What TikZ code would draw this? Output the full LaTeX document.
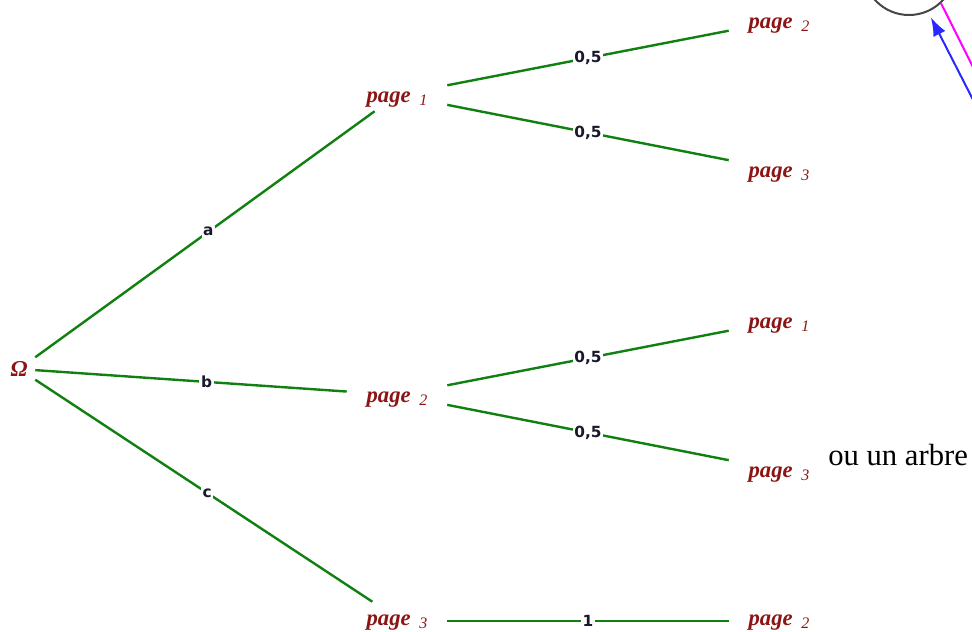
\documentclass[tikz,border=0pt]{standalone}
\usepackage{fontspec}
\setmainfont{Liberation Serif}
\newfontfamily\labfont{DejaVu Sans}
\usetikzlibrary{arrows.meta}
\definecolor{treegreen}{RGB}{16,128,16}
\definecolor{pgred}{RGB}{140,20,20}
\definecolor{labcol}{RGB}{25,25,45}
\definecolor{circgray}{RGB}{70,70,70}
\definecolor{mag}{RGB}{255,0,255}
\definecolor{arrblue}{RGB}{40,40,255}
\newcommand{\pgt}[1]{{\fontsize{17}{20}\selectfont\bfseries\itshape page}\hspace{6.5pt}\raisebox{-2.5pt}{\fontsize{12}{14}\selectfont\itshape #1}}
\begin{document}
\begin{tikzpicture}[x=0.75pt,y=-0.75pt,
  pg/.style={inner sep=0pt,minimum width=75pt,minimum height=24pt,text=pgred,text height=10.5pt,text depth=0pt},
  br/.style={draw=treegreen,line width=1.8pt},
  lab/.style={fill=white,inner sep=1.2pt,font=\labfont\bfseries\fontsize{11.5}{13}\selectfont,text=labcol}]
\useasboundingbox (0,0) rectangle (972,632);
\begin{scope}
\clip (0,0) rectangle (972,632);
% nodes
\node[inner sep=0pt,minimum width=24pt,minimum height=22pt,text=pgred,text height=11pt,text depth=0pt,font=\fontsize{17}{19}\selectfont\bfseries\itshape] (O) at (19,369) {Ω};
\node[pg] (L1) at (397,95) {\pgt{1}};
\node[pg] (L2) at (397,395) {\pgt{2}};
\node[pg] (L3) at (397,618) {\pgt{3}};
\node[pg] (R1) at (779,21) {\pgt{2}};
\node[pg] (R2) at (779,170) {\pgt{3}};
\node[pg] (R3) at (779,321) {\pgt{1}};
\node[pg] (R4) at (779,470) {\pgt{3}};
\node[pg] (R5) at (779,618) {\pgt{2}};
% branches
\draw[br] (O) -- node[lab,pos=0.51]{a} (L1);
\draw[br] (O) -- node[lab,pos=0.55]{b} (L2);
\draw[br] (O) -- node[lab,pos=0.51]{c} (L3);
\draw[br] (L1) -- node[lab]{0,5} (R1);
\draw[br] (L1) -- node[lab]{0,5} (R2);
\draw[br] (L2) -- node[lab]{0,5} (R3);
\draw[br] (L2) -- node[lab]{0,5} (R4);
\draw[br] ([yshift=-2.25pt]L3.east) -- node[lab]{1} ([yshift=-2.25pt]R5.west);
% text
\node[anchor=base west,inner sep=0pt,font=\fontsize{23}{27}\selectfont] (T) at (828,465) {ou un arbre};
% partial circle and arrows
\node[draw=circgray,line width=1.5pt,circle,minimum size=69pt,inner sep=0pt] (C) at (909,-31) {};
\coordinate (bs) at (990,133);
\coordinate (ms) at (995,111);
\draw[mag,line width=1.5pt] (C.-47) -- (ms);
\draw[arrblue,line width=1.5pt,-{Latex[length=14pt,width=10pt]},shorten >=4.5pt] (bs) -- (C.-66);
\end{scope}
\end{tikzpicture}
\end{document}
